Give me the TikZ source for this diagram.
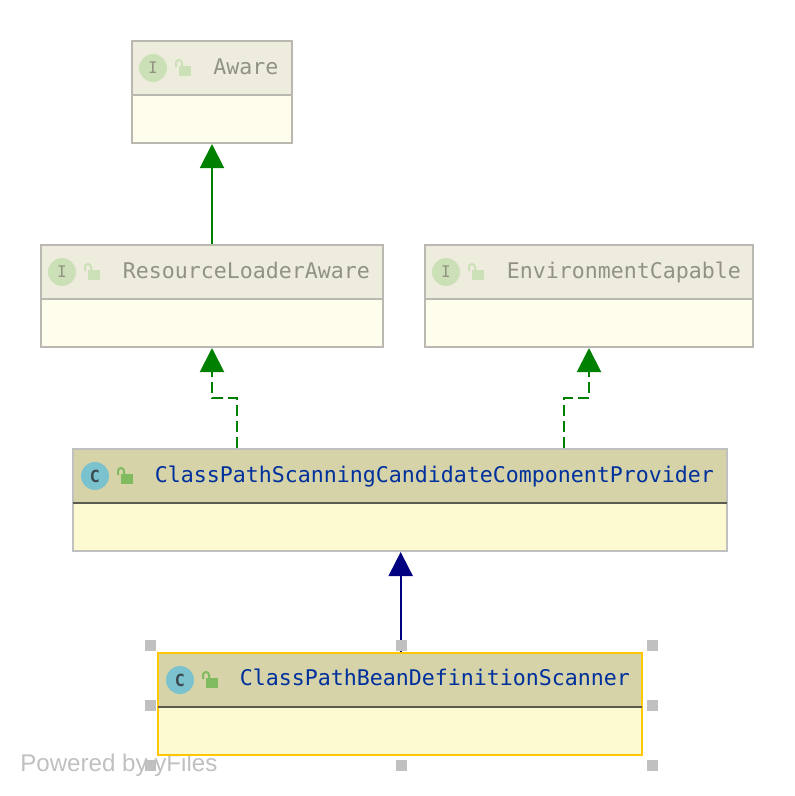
\documentclass[tikz,border=0pt]{standalone}
\usepackage{fontspec}
\setmainfont{Liberation Sans}
\setmonofont{DejaVu Sans Mono}
\usetikzlibrary{arrows.meta,calc}

\definecolor{fadehead}{HTML}{EEECDD}
\definecolor{fadebody}{HTML}{FFFDEC}
\definecolor{fadeline}{HTML}{B9B9B2}
\definecolor{fadetext}{HTML}{929282}
\definecolor{fadeicon}{HTML}{CCE0B8}
\definecolor{classhead}{HTML}{D6D3A9}
\definecolor{classbody}{HTML}{FDF9D1}
\definecolor{classline}{HTML}{C0C0C0}
\definecolor{classtext}{HTML}{00309C}
\definecolor{classicon}{HTML}{7BC2CF}
\definecolor{classlock}{HTML}{80BB60}
\definecolor{pickline}{HTML}{FFC800}
\definecolor{divline}{HTML}{5A5A50}
\definecolor{icontext}{HTML}{3C4A50}
\definecolor{extgreen}{HTML}{008000}
\definecolor{extnavy}{HTML}{000080}

\tikzset{
    boxnode/.style={rectangle,draw,line width=1.5pt,inner sep=0pt},
    ifacebox/.style={boxnode,draw=fadeline,fill=fadebody},
    classbox/.style={boxnode,draw=classline,fill=classbody},
    headfill/.style={boxnode,draw=none,fill=classhead},
    headlabel/.style={anchor=west,inner sep=0pt,text height=12pt,text depth=3pt,font=\ttfamily\fontsize{16.2}{18}\selectfont},
    ifacelabel/.style={headlabel,text=fadetext},
    classlabel/.style={headlabel,text=classtext},
    kindicon/.style={circle,minimum size=21pt,inner sep=0pt},
    ifaceicon/.style={kindicon,fill=fadeicon,text=fadetext,font=\ttfamily\fontsize{12}{12}\selectfont},
    classicon/.style={kindicon,fill=classicon,text=icontext,font=\ttfamily\bfseries\fontsize{12.5}{12.5}\selectfont},
    handle/.style={rectangle,fill=classline,minimum size=8.25pt,inner sep=0pt},
    extends/.style={line width=1.5pt,-{Triangle[width=18pt,length=18pt]}},
    implements/.style={extends,dash pattern=on 8pt off 4pt}
}

% lock glyph: position, colour
\newcommand{\lockglyph}[2]{
    \fill[#2] ($(#1)+(26,-2)$) rectangle ($(#1)+(38,8)$);
    \draw[#2,line width=1.5pt] ($(#1)+(23,-1)$) -- ($(#1)+(23,-5)$) arc (180:360:3) -- ($(#1)+(29,-2)$);
}

\begin{document}
\begin{tikzpicture}[x=0.75pt,y=-0.75pt]
            \useasboundingbox (0,0) rectangle (794,796);
            \node[anchor=west,inner sep=0pt,text=classline,font=\fontsize{18.1}{20}\selectfont] (brand) at (20,765) {Powered by yFiles};
            % interfaces
            \node[ifacebox,minimum width=120pt,minimum height=76.5pt] (aware) at (212,92) {};
            \node[ifacebox,fill=fadehead,minimum width=120pt,minimum height=40.5pt] (awarehead) at (212,68) {};
            \node[ifacebox,minimum width=256.5pt,minimum height=76.5pt] (loader) at (212,296) {};
            \node[ifacebox,fill=fadehead,minimum width=256.5pt,minimum height=40.5pt] (loaderhead) at (212,272) {};
            \node[ifacebox,minimum width=246pt,minimum height=76.5pt] (envcap) at (589,296) {};
            \node[ifacebox,fill=fadehead,minimum width=246pt,minimum height=40.5pt] (envcaphead) at (589,272) {};
            % classes
            \node[classbox,minimum width=490.5pt,minimum height=76.5pt] (provider) at (400,500) {};
            \node[headfill,minimum width=489pt,minimum height=39pt] (providerhead) at (400,476) {};
            \node[classbox,draw=pickline,minimum width=363pt,minimum height=76.5pt] (scanner) at (400,704) {};
            \node[headfill,minimum width=361.5pt,minimum height=39pt] (scannerhead) at (400,680) {};
            \draw[divline,line width=1.5pt] (providerhead.south west) -- (providerhead.south east);
            \draw[divline,line width=1.5pt] (scannerhead.south west) -- (scannerhead.south east);
            % icons
            \node[ifaceicon] (awareicon) at (153,68) {I};
            \node[ifaceicon] (loadericon) at (62,272) {I};
            \node[ifaceicon] (envcapicon) at (446,272) {I};
            \node[classicon] (providericon) at (95,476) {C};
            \node[classicon] (scannericon) at (180,680) {C};
            \lockglyph{awareicon.center}{fadeicon}
            \lockglyph{loadericon.center}{fadeicon}
            \lockglyph{envcapicon.center}{fadeicon}
            \lockglyph{providericon.center}{classlock}
            \lockglyph{scannericon.center}{classlock}
            % names
            \node[ifacelabel] (awarename) at (213,68) {Aware};
            \node[ifacelabel] (loadername) at (122.5,272) {ResourceLoaderAware};
            \node[ifacelabel] (envcapname) at (506.5,272) {EnvironmentCapable};
            \node[classlabel] (providername) at (154.5,476) {ClassPathScanningCandidateComponentProvider};
            \node[classlabel] (scannername) at (239.5,679) {ClassPathBeanDefinitionScanner};
            % connectors
            \coordinate (bendleft) at (236.5,398);
            \coordinate (bendright) at (564,398);
            \draw[extends,extgreen] (loader.north) -- (aware.south);
            \draw[implements,extgreen] (provider.north -| bendleft) -- (bendleft) -- (bendleft -| loader.south) -- (loader.south);
            \draw[implements,extgreen] (provider.north -| bendright) -- (bendright) -- (bendright -| envcap.south) -- (envcap.south);
            \draw[extends,extnavy] ([xshift=0.5pt]scanner.north) -- ([xshift=0.5pt]provider.south);
            % selection handles
            \node[handle] (h1) at (150.5,645) {};
            \node[handle] (h2) at (401,645) {};
            \node[handle] (h3) at (652,645) {};
            \node[handle] (h4) at (150.5,705) {};
            \node[handle] (h5) at (652,705) {};
            \node[handle] (h6) at (150.5,765) {};
            \node[handle] (h7) at (401,765) {};
            \node[handle] (h8) at (652,765) {};
        \end{tikzpicture}
\end{document}
